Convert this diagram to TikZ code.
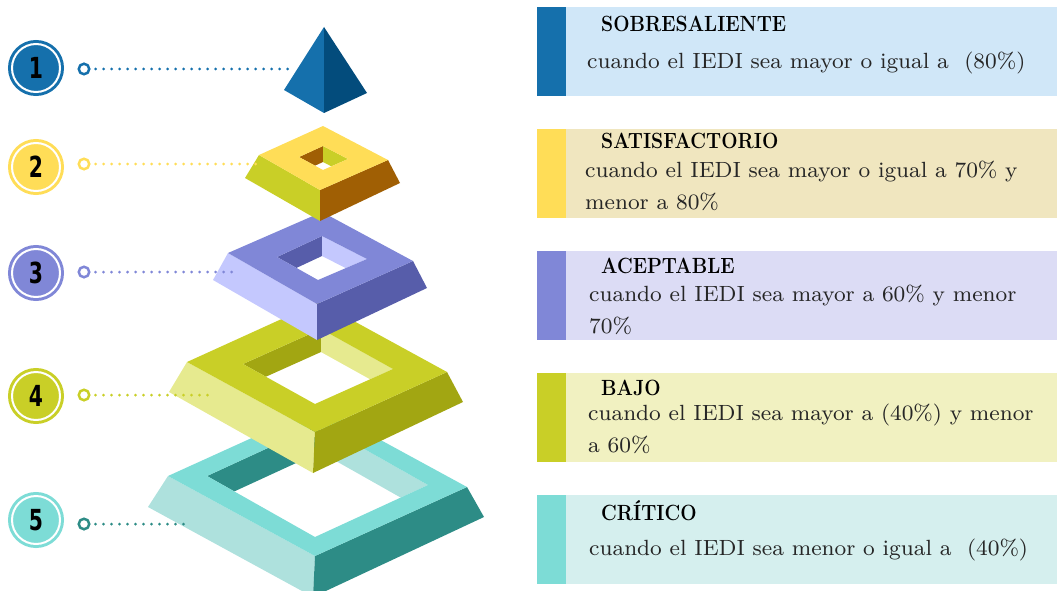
\documentclass[tikz,border=0pt]{standalone}
\usepackage{fontspec}
\usetikzlibrary{calc}
\newfontfamily\numfont{DejaVu Sans}
\newfontfamily\bodyfont{lmroman8-regular.otf}
\definecolor{cA}{HTML}{1570AC}
\definecolor{cAd}{HTML}{034C7C}
\definecolor{bA}{HTML}{D0E7F8}
\definecolor{cB}{HTML}{FFDD57}
\definecolor{cBl}{HTML}{C9CF27}
\definecolor{cBd}{HTML}{A05F04}
\definecolor{bB}{HTML}{F0E6BF}
\definecolor{cC}{HTML}{8087D7}
\definecolor{cCl}{HTML}{C4C8FE}
\definecolor{cCd}{HTML}{575DAA}
\definecolor{bC}{HTML}{DCDCF5}
\definecolor{cD}{HTML}{C9CF27}
\definecolor{cDl}{HTML}{E6EA8F}
\definecolor{cDd}{HTML}{A2A612}
\definecolor{bD}{HTML}{F1F1C1}
\definecolor{cE}{HTML}{7DDCD6}
\definecolor{cEl}{HTML}{AEE1DD}
\definecolor{cEd}{HTML}{2D8C86}
\definecolor{bE}{HTML}{D5EFEE}
\definecolor{txt}{HTML}{262626}

\newcommand{\pyrlayer}[5]{%
  \begin{scope}
    \clip (#1hT) -- (#1hL) -- (#1hB) -- (#1hR) -- cycle;
    \fill[#4] (#1hT) -- (#1hL) -- ($(#1hL)+(0,#5)$) -- ($(#1hT)+(0,#5)$) -- cycle;
    \fill[#3] (#1hT) -- (#1hR) -- ($(#1hR)+(0,#5)$) -- ($(#1hT)+(0,#5)$) -- cycle;
  \end{scope}
  \fill[#3] (#1L) -- (#1B) -- (#1Bb) -- (#1Lb) -- cycle;
  \fill[#4] (#1B) -- (#1R) -- (#1Rb) -- (#1Bb) -- cycle;
  \fill[#2, even odd rule] (#1T) -- (#1L) -- (#1B) -- (#1R) -- cycle
       (#1hT) -- (#1hL) -- (#1hB) -- (#1hR) -- cycle;
}

\tikzset{
  panel/.style={rectangle, draw=none, inner sep=0pt, anchor=north west,
    minimum width=520pt, minimum height=89pt},
  strip/.style={rectangle, draw=none, inner sep=0pt, anchor=north west,
    minimum width=29pt, minimum height=89pt},
  ttl/.style={anchor=base west, inner sep=0pt, text=black,
    font=\fontsize{22}{22}\selectfont\bfseries},
  body/.style={anchor=base west, inner sep=0pt, text=txt, align=left,
    font=\bodyfont\fontsize{22}{32}\selectfont},
  numc/.style={circle, inner sep=0pt, minimum size=48pt, fill=#1,
    draw=white, line width=2pt, preaction={draw=#1, line width=8pt},
    text=black, font=\numfont\fontsize{29}{29}\selectfont\bfseries},
  dotc/.style={circle, inner sep=0pt, minimum size=10.5pt, fill=white,
    draw=#1, line width=2.5pt},
  dotl/.style={draw=#1, line width=3pt, line cap=round,
    dash pattern=on 0pt off 8pt, shorten <=5pt}
}

\begin{document}
\begin{tikzpicture}[x=1pt, y=-1pt]
\useasboundingbox (0,0) rectangle (1057,591);
\clip (0,0) rectangle (1057,591);

% ---------- pyramid layers (bottom to top) ----------
% layer 5
\coordinate (ET) at (320,407); \coordinate (EL) at (168,476);
\coordinate (EB) at (315,556); \coordinate (ER) at (467,487);
\coordinate (ELb) at (148,507); \coordinate (EBb) at (313,597);
\coordinate (ERb) at (484,517);
\coordinate (EhT) at (320,424); \coordinate (EhL) at (207,476);
\coordinate (EhB) at (315,537); \coordinate (EhR) at (428,485);
\pyrlayer{E}{cE}{cEl}{cEd}{28}
% layer 4
\coordinate (DT) at (319,302); \coordinate (DL) at (187,362);
\coordinate (DB) at (315,432); \coordinate (DR) at (447,372);
\coordinate (DLb) at (169,392); \coordinate (DBb) at (313,473);
\coordinate (DRb) at (463,402);
\coordinate (DhT) at (321,329); \coordinate (DhL) at (243,364);
\coordinate (DhB) at (315,404); \coordinate (DhR) at (393,369);
\pyrlayer{D}{cD}{cDl}{cDd}{23}
% layer 3
\coordinate (CT) at (322,212); \coordinate (CL) at (228,253);
\coordinate (CB) at (317,304); \coordinate (CR) at (413,261);
\coordinate (CLb) at (213,280); \coordinate (CBb) at (317,340);
\coordinate (CRb) at (427,288);
\coordinate (ChT) at (322,236); \coordinate (ChL) at (277,257);
\coordinate (ChB) at (318,280); \coordinate (ChR) at (367,259);
\pyrlayer{C}{cC}{cCl}{cCd}{20}
% layer 2
\coordinate (BT) at (323,126); \coordinate (BL) at (259,155);
\coordinate (BB) at (320,190); \coordinate (BR) at (388,160);
\coordinate (BLb) at (245,178); \coordinate (BBb) at (320,221);
\coordinate (BRb) at (400,183);
\coordinate (BhT) at (323,146); \coordinate (BhL) at (299,157);
\coordinate (BhB) at (323,170); \coordinate (BhR) at (348,159);
\pyrlayer{B}{cB}{cBl}{cBd}{16}
% top pyramid
\fill[cA] (324,27) -- (284,90) -- (324,113) -- cycle;
\fill[cAd] (324,27) -- (324,113) -- (367,93) -- cycle;

% ---------- number circles and connectors ----------
\node[numc=cA] (n1) at (36,68) {\scalebox{0.7}[1]{1}};
\node[numc=cB] (n2) at (36,167) {\scalebox{0.7}[1]{2}};
\node[numc=cC] (n3) at (36,273) {\scalebox{0.7}[1]{3}};
\node[numc=cD] (n4) at (36,396) {\scalebox{0.7}[1]{4}};
\node[numc=cE] (n5) at (36,520) {\scalebox{0.7}[1]{5}};

\node[dotc=cA] (k1) at (84,69) {};
\node[dotc=cB] (k2) at (84,164) {};
\node[dotc=cC] (k3) at (84,272) {};
\node[dotc=cD] (k4) at (84,395) {};
\node[dotc=cEd] (k5) at (84,524) {};
\coordinate (e1) at (293,69);
\coordinate (e2) at (257,164);
\coordinate (e3) at (237,272);
\coordinate (e4) at (208,395);
\coordinate (e5) at (188,524);
\draw[dotl=cA] (k1) -- (e1);
\draw[dotl=cB] (k2) -- (e2);
\draw[dotl=cC] (k3) -- (e3);
\draw[dotl=cD] (k4) -- (e4);
\draw[dotl=cEd] (k5) -- (e5);

% ---------- right panels ----------
\node[panel, fill=bA] (p1) at (537,7) {};
\node[panel, fill=bB] (p2) at (537,129) {};
\node[panel, fill=bC] (p3) at (537,251) {};
\node[panel, fill=bD] (p4) at (537,373) {};
\node[panel, fill=bE] (p5) at (537,495) {};
\node[strip, fill=cA] (s1) at (537,7) {};
\node[strip, fill=cB] (s2) at (537,129) {};
\node[strip, fill=cC] (s3) at (537,251) {};
\node[strip, fill=cD] (s4) at (537,373) {};
\node[strip, fill=cE] (s5) at (537,495) {};

\node[ttl] (t1) at (601,32) {\scalebox{0.88}[1]{SOBRESALIENTE}};
\node[ttl] (t2) at (601,148) {\scalebox{0.88}[1]{SATISFACTORIO}};
\node[ttl] (t3) at (601,273) {\scalebox{0.88}[1]{ACEPTABLE}};
\node[ttl] (t4) at (601,395) {\scalebox{0.88}[1]{BAJO}};
\node[ttl] (t5) at (601,520) {\scalebox{0.88}[1]{CRÍTICO}};

\node[body] (d1) at (587,69) {cuando el IEDI sea mayor o igual a \ (80\%)};
\node[body] (d2) at (585,209) {cuando el IEDI sea mayor o igual a 70\% y\\menor a 80\%};
\node[body] (d3) at (589,333) {cuando el IEDI sea mayor a 60\% y menor\\70\%};
\node[body] (d4) at (588,452) {cuando el IEDI sea mayor a (40\%) y menor\\a 60\%};
\node[body] (d5) at (589,555) {cuando el IEDI sea menor o igual a \ (40\%)};
\end{tikzpicture}
\end{document}
